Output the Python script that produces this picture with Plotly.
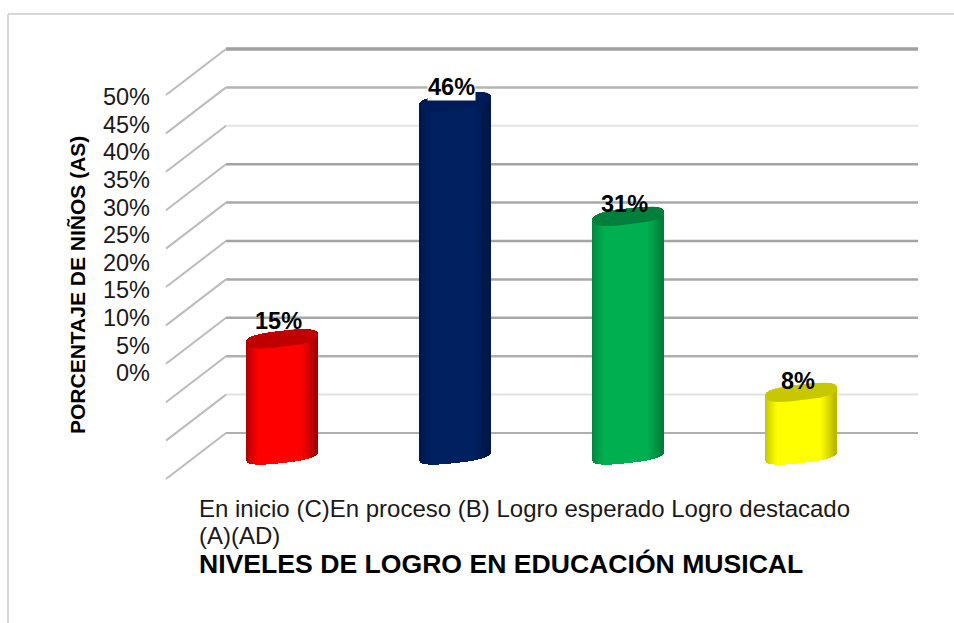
import numpy as np
import plotly.graph_objects as go

CATEGORIES = ["En inicio (C)", "En proceso (B)", "Logro esperado (A)", "Logro destacado (AD)"]
VALUES = [15, 46, 31, 8]
LABELS = ["15%", "46%", "31%", "8%"]
BRIGHT = [(255, 0, 0), (0, 32, 96), (0, 176, 80), (255, 255, 0)]
EDGE = [(160, 0, 0), (0, 22, 68), (0, 125, 58), (185, 185, 0)]
CAP = ["#c00000", "#001c58", "#00803c", "#c8c800"]
TICKS = [0, 5, 10, 15, 20, 25, 30, 35, 40, 45, 50]
GRID_COLORS = ["#b0b0b0", "#e2e2e2", "#b0b0b0", "#a8a8a8", "#a8a8a8", "#a4a4a4",
               "#a8a8a8", "#a4a4a4", "#e4e4e4", "#b4b4b4", "#a0a0a0"]
GRID_WIDTHS = [2, 2, 2.5, 2.5, 2.5, 2.5, 2.5, 2.5, 2, 2.5, 3.5]

W, H = 954, 623
PX_X0, PX_STEP = 282.5, 173.0      # x pixel of first cylinder, spacing
BASE_PX, BAR_SCALE = 455.0, 7.65   # y pixel of 0 for the cylinders, px per percent
GRID_PX, GRID_SCALE = 433.0, 7.68  # y pixel of 0 on the back wall, px per percent
HALF_W, TILT, MINOR = 35.5, 4.0, 8.0
CAP_LIFT = 1.5 / BAR_SCALE
POWER = 2.8                        # rounder-cornered ellipse, as in the picture
N_STRIPS = 71

fig = go.Figure()
xr = [(0 - PX_X0) / PX_STEP, (W - PX_X0) / PX_STEP]
yr = [(BASE_PX - H) / BAR_SCALE, BASE_PX / BAR_SCALE]
y2r = [(GRID_PX - H) / GRID_SCALE, GRID_PX / GRID_SCALE]

u = (np.arange(N_STRIPS) + 0.5) / N_STRIPS * 2 - 1
arc = np.clip(1 - np.abs(u) ** POWER, 0, 1) ** (1 / POWER)
shade = np.clip((1 - np.abs(u + 0.05)) / 0.4, 0, 1) ** 0.8

for i, v in enumerate(VALUES):
    colors = []
    for s in shade:
        c = [int(e + (b - e) * s) for e, b in zip(EDGE[i], BRIGHT[i])]
        colors.append(f"rgb({c[0]},{c[1]},{c[2]})")
    xs = i + u * HALF_W / PX_STEP
    bottoms = (TILT * u - MINOR * arc) / BAR_SCALE
    tops = v + CAP_LIFT + (TILT * u + MINOR * arc) / BAR_SCALE
    fig.add_trace(go.Bar(x=xs, y=tops - bottoms, base=bottoms,
                         width=2 * HALF_W / PX_STEP / N_STRIPS * 1.15,
                         marker=dict(color=colors, line=dict(width=0)),
                         name=CATEGORIES[i], showlegend=False, hoverinfo="skip"))
    t = np.linspace(0, 2 * np.pi, 120)
    ex = np.sign(np.cos(t)) * np.abs(np.cos(t)) ** (2 / POWER)
    ey = np.sign(np.sin(t)) * np.abs(np.sin(t)) ** (2 / POWER)
    fig.add_trace(go.Scatter(x=i + ex * HALF_W / PX_STEP,
                             y=v + CAP_LIFT + (TILT * ex + MINOR * ey) / BAR_SCALE,
                             mode="lines", line=dict(width=0), fill="toself",
                             fillcolor=CAP[i], showlegend=False, hoverinfo="skip"))

# invisible traces so that the wall axis and the tick-label axis exist
fig.add_trace(go.Scatter(x=[0], y=[0], yaxis="y2", mode="markers", marker=dict(opacity=0),
                         showlegend=False, hoverinfo="skip"))
fig.add_trace(go.Scatter(x=[0], y=[0], yaxis="y3", mode="markers", marker=dict(opacity=0),
                         showlegend=False, hoverinfo="skip"))

shapes = []
DEPTH_X = 60 / PX_STEP
DEPTH_Y = 46 / GRID_SCALE
WALL_LEFT = (226 - PX_X0) / PX_STEP
WALL_RIGHT = (918 - PX_X0) / PX_STEP
for tick, col, wd in zip(TICKS, GRID_COLORS, GRID_WIDTHS):
    shapes.append(dict(type="line", xref="x", yref="y2", layer="below",
                       x0=WALL_LEFT, x1=WALL_RIGHT, y0=tick, y1=tick,
                       line=dict(color=col, width=wd)))
    shapes.append(dict(type="line", xref="x", yref="y2", layer="below",
                       x0=WALL_LEFT, x1=WALL_LEFT - DEPTH_X, y0=tick, y1=tick - DEPTH_Y,
                       line=dict(color="#bcbcbc", width=2)))
# outer frame of the chart
shapes.append(dict(type="line", xref="paper", yref="paper", x0=8 / W, x1=1, y0=1 - 14 / H, y1=1 - 14 / H,
                   line=dict(color="#d9d9d9", width=2)))
shapes.append(dict(type="line", xref="paper", yref="paper", x0=8 / W, x1=8 / W, y0=1 - 14 / H, y1=0,
                   line=dict(color="#d9d9d9", width=2)))

FONT = "Liberation Sans, Arial, sans-serif"
LABEL_YSHIFTS = [19, 16, 14, 13]
annotations = []
for i, (v, lab) in enumerate(zip(VALUES, LABELS)):
    annotations.append(dict(x=i, y=v, xref="x", yref="y", text=f"<b>{lab}</b>", showarrow=False,
                            xshift=-4, yshift=LABEL_YSHIFTS[i], font=dict(family=FONT, size=23.5, color="#000"),
                            bgcolor="#ffffff" if v == max(VALUES) else "rgba(0,0,0,0)", borderpad=0))
annotations.append(dict(x=77 / W, y=1 - 285 / H, xref="paper", yref="paper", textangle=-90,
                        xanchor="center", yanchor="middle",
                        text="<b>PORCENTAJE DE NIÑOS (AS)</b>", showarrow=False,
                        font=dict(family=FONT, size=21, color="#000")))
annotations.append(dict(x=197 / W, y=1 - 508 / H, xref="paper", yref="paper", xanchor="left", yanchor="middle",
                        text="En inicio (C)En proceso (B) Logro esperado Logro destacado",
                        showarrow=False, font=dict(family=FONT, size=24, color="#1a1a1a")))
annotations.append(dict(x=197 / W, y=1 - 535 / H, xref="paper", yref="paper", xanchor="left", yanchor="middle",
                        text="(A)(AD)", showarrow=False, font=dict(family=FONT, size=24, color="#1a1a1a")))
annotations.append(dict(x=197 / W, y=1 - 564 / H, xref="paper", yref="paper", xanchor="left", yanchor="middle",
                        text="<b>NIVELES DE LOGRO EN EDUCACIÓN MUSICAL</b>", showarrow=False,
                        font=dict(family=FONT, size=26.6, color="#000")))

fig.update_layout(
    width=W, height=H, margin=dict(l=0, r=0, t=0, b=0, pad=0, autoexpand=False), autosize=False,
    paper_bgcolor="#ffffff", plot_bgcolor="rgba(0,0,0,0)", barmode="overlay", bargap=0,
    showlegend=False, shapes=shapes, annotations=annotations,
    xaxis=dict(domain=[0, 1], range=xr, visible=False),
    yaxis=dict(domain=[0, 1], range=yr, visible=False),
    yaxis2=dict(range=y2r, overlaying="y", visible=False),
    yaxis3=dict(domain=[1 - 373 / H, 1 - 97 / H], range=[0, 50], anchor="free", position=150 / W,
                side="left", tickvals=TICKS, ticktext=[f"{t}%" for t in TICKS],
                showgrid=False, zeroline=False, showline=False, ticks="",
                tickfont=dict(family=FONT, size=23.5, color="#1a1a1a")),
)

fig.write_html("out.html", config={"displayModeBar": False},
               post_script="document.body.style.margin='0';document.body.style.overflow='hidden';")
